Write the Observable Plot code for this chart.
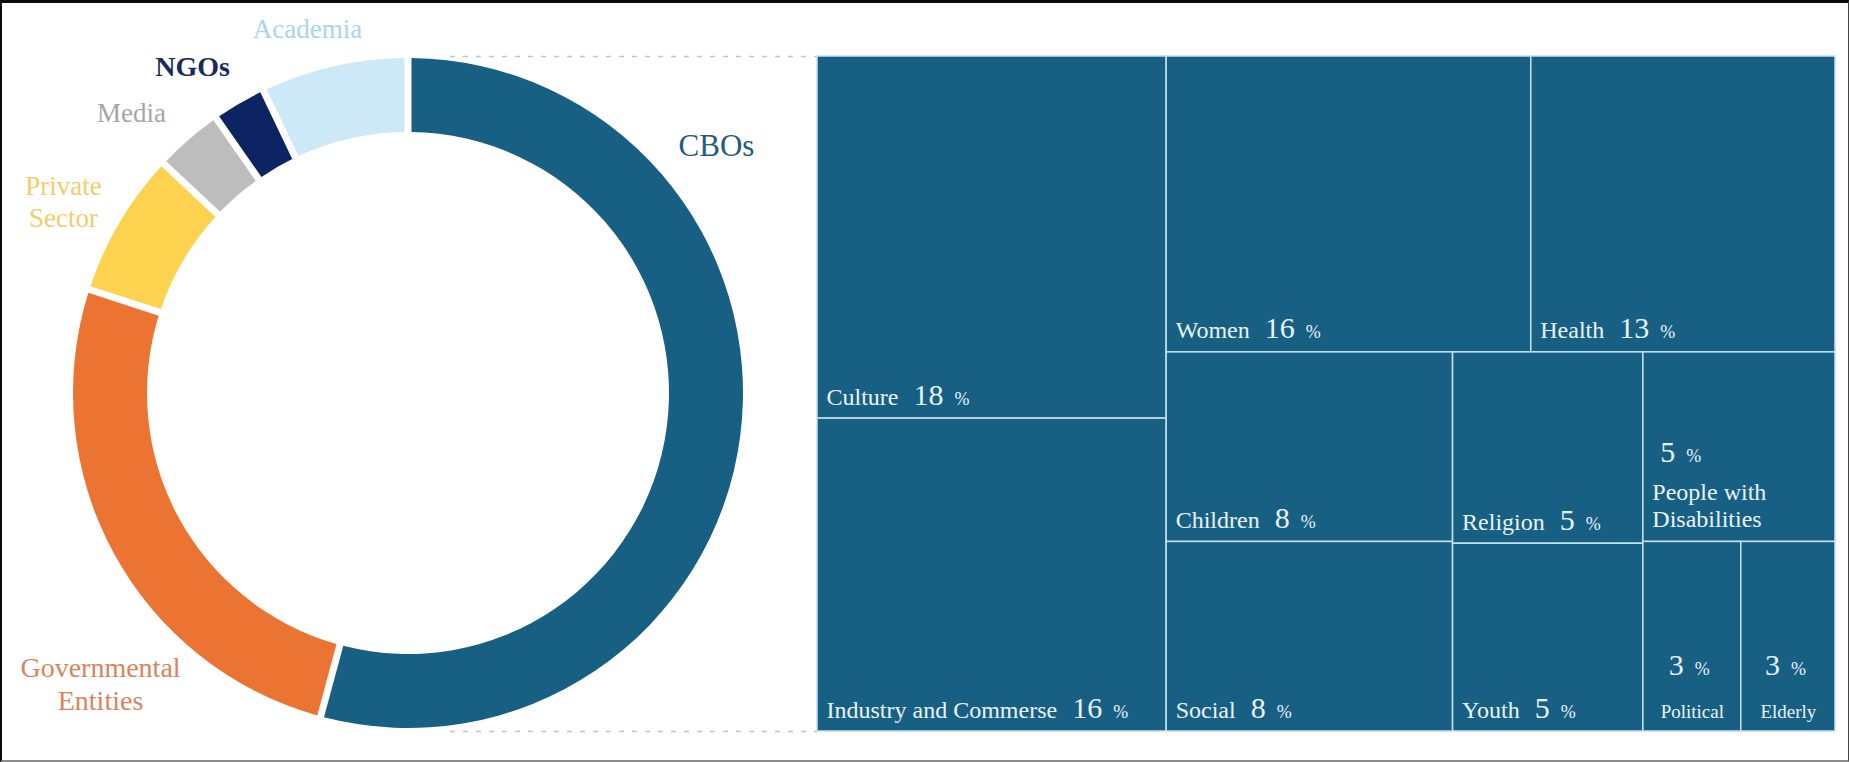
<!DOCTYPE html>
<html>
<head>
<meta charset="utf-8">
<script src="https://cdn.jsdelivr.net/npm/d3@7"></script>
<script src="https://cdn.jsdelivr.net/npm/@observablehq/plot@0.6"></script>
<style>
  html, body { margin: 0; padding: 0; background: #fff; }
  #wrap { position: relative; width: 1849px; height: 762px; overflow: hidden; background: #fff; }
  #wrap svg { position: absolute; left: 0; top: 0; }
  #border { position: absolute; left: 0; top: 0; width: 1849px; height: 762px; box-sizing: border-box;
    border-top: 3px solid #0a0a0a; border-left: 2px solid #0a0a0a; border-right: 1px solid #444;
    border-bottom: 2px solid #8c8c8c; pointer-events: none; z-index: 2; }
</style>
</head>
<body>
<div id="wrap"><div id="border"></div></div>
<script>
// ---------------- DATA ----------------
// Donut: type of organisation (share of total, %), read from the arc angles
const orgNames  = ["CBOs", "Governmental Entities", "Private Sector", "Media", "NGOs", "Academia"];
const orgShares = [54.2, 25.8, 7.0, 3.3, 2.6, 7.1];

// Treemap: CBO sectors (share, %); labels show rounded values
const sectorNames  = ["Culture", "Industry and Commerse", "Women", "Health", "Children", "Social",
                      "Religion", "Youth", "People with Disabilities", "Political", "Elderly"];
const sectorShares = [18.4, 15.9, 15.7, 13.1, 7.9, 7.9, 5.3, 5.2, 5.3, 2.7, 2.6];
// grouping of the treemap tiles (structure only)
const sectorGroups = ["left", "left", "right/top", "right/top", "right/bottom/a", "right/bottom/a",
                      "right/bottom/b", "right/bottom/b", "right/bottom/c", "right/bottom/c/pair", "right/bottom/c/pair"];

// ---------------- STYLE / LAYOUT ----------------
const FONT = '"Liberation Serif", "Times New Roman", serif';
const orgColors      = {"CBOs": "#185f84", "Governmental Entities": "#ec7433", "Private Sector": "#fdd24f",
                        "Media": "#bdbdbd", "NGOs": "#0c2461", "Academia": "#cde9f8"};
const orgLabelColors = {"CBOs": "#245b7e", "Governmental Entities": "#d9845b", "Private Sector": "#f2cd6b",
                        "Media": "#a6a6a6", "NGOs": "#1b2a5c", "Academia": "#a9d4ee"};
const orgLabelText   = {"Private Sector": "Private\nSector", "Governmental Entities": "Governmental\nEntities"};
// label anchor (last baseline) relative to donut centre, font size, weight
const orgLabelPlace  = {"CBOs": [308, -238, 31, "normal"], "Governmental Entities": [-308, 316, 28, "normal"],
                        "Private Sector": [-345, -167, 27, "normal"], "Media": [-277, -272, 27, "normal"],
                        "NGOs": [-216, -318, 28, "bold"], "Academia": [-101, -356, 27, "normal"]};
const CX = 408, CY = 393, RO = 335, RI = 261;
const TX = 817, TY = 56, TW = 1018, TH = 675;
const tileColor = "#185f84", tileLine = "#c6e1f0", tileText = "#e9f4fa";
const labelStyle = {"People with Disabilities": "stackLeft", "Political": "stackCenter", "Elderly": "stackCenter"};
const labelBreak = {"People with Disabilities": "People with\nDisabilities"};

// ---------------- TREEMAP LAYOUT ----------------
const rootObj = {name: "root", children: []};
sectorNames.forEach((name, i) => {
  let node = rootObj;
  for (const key of sectorGroups[i].split("/")) {
    let child = node.children.find(c => c.name === key && c.children);
    if (!child) { child = {name: key, children: []}; node.children.push(child); }
    node = child;
  }
  node.children.push({name, share: sectorShares[i]});
});
const root = d3.hierarchy(rootObj).sum(d => d.share || 0);
d3.treemap().tile(d3.treemapSliceDice).size([TW, TH])(root);
const cells = root.leaves().map(l => ({
  name: l.data.name, share: l.data.share,
  x0: TX + l.x0, x1: TX + l.x1, y0: TY + l.y0, y1: TY + l.y1
}));

// text measuring for composite labels
const ctx = document.createElement("canvas").getContext("2d");
const tw = (t, s) => { ctx.font = `${s}px "Liberation Serif"`; return ctx.measureText(t).width; };
const NAME = 24, NUM = 30, PCT = 18, SMALL = 19;
const nameStart = [], nameMid = [], nums = [], pcts = [];
for (const c of cells) {
  const pct = String(Math.round(c.share));
  const style = labelStyle[c.name] || "inline";
  const label = labelBreak[c.name] || c.name;
  if (style === "inline") {
    const x = c.x0 + 9, y = c.y1 - 14;
    nameStart.push({x, y, text: label});
    const nx = x + tw(label, NAME) + 15;
    nums.push({x: nx, y, text: pct});
    pcts.push({x: nx + tw(pct, NUM) + 11, y, text: "%"});
  } else if (style === "stackLeft") {
    nameStart.push({x: c.x0 + 9, y: c.y1 - 15, text: label});
    const nx = c.x0 + 17, y = c.y1 - 80;
    nums.push({x: nx, y, text: pct});
    pcts.push({x: nx + tw(pct, NUM) + 11, y, text: "%"});
  } else {
    const mid = (c.x0 + c.x1) / 2;
    nameMid.push({x: mid, y: c.y1 - 14, text: label});
    const total = tw(pct, NUM) + 11 + tw("%", PCT);
    const nx = mid - total / 2 - 3, y = c.y1 - 57;
    nums.push({x: nx, y, text: pct});
    pcts.push({x: nx + tw(pct, NUM) + 11, y, text: "%"});
  }
}

// ---------------- DONUT (pie layout) ----------------
const orgData = orgNames.map((name, i) => ({name, share: orgShares[i]}));
const donut = () => {
  const g = d3.create("svg:g").attr("transform", `translate(${CX},${CY})`);
  const arcs = d3.pie().sort(null).value(d => d.share)(orgData);
  const arc = d3.arc().innerRadius(RI).outerRadius(RO)
    .padAngle(7 / Math.hypot(RI, RO));
  g.selectAll("path").data(arcs).join("path")
    .attr("d", arc)
    .attr("fill", d => orgColors[d.data.name]);
  return g.node();
};

const orgLabelMarks = orgNames.map(name => {
  const [dx, dy, size, weight] = orgLabelPlace[name];
  return Plot.text([{x: CX + dx, y: CY + dy, text: orgLabelText[name] || name}], {
    x: "x", y: "y", text: "text", fill: orgLabelColors[name], fontSize: size, fontWeight: weight,
    fontFamily: FONT, textAnchor: "middle", lineAnchor: "bottom", lineHeight: 1.15
  });
});

const txt = {fontFamily: FONT, fill: tileText, lineAnchor: "bottom", x: "x", y: "y", text: "text"};

const plot = Plot.plot({
  width: 1849, height: 762, margin: 0,
  x: {type: "identity", axis: null},
  y: {type: "identity", axis: null},
  style: {background: "transparent", overflow: "visible"},
  marks: [
    Plot.ruleY([TY, TY + TH], {x1: CX + 42, x2: TX, stroke: "#c4c4c4", strokeWidth: 1.5, strokeDasharray: "5,8"}),
    donut,
    Plot.rect(cells, {x1: "x0", x2: "x1", y1: "y0", y2: "y1", fill: tileColor, stroke: tileLine, strokeWidth: 1.5}),
    Plot.text(nameStart, {...txt, fontSize: NAME, textAnchor: "start", lineHeight: 1.125}),
    Plot.text(nameMid, {...txt, fontSize: SMALL, textAnchor: "middle"}),
    Plot.text(nums, {...txt, fontSize: NUM, textAnchor: "start"}),
    Plot.text(pcts, {...txt, fontSize: PCT, textAnchor: "start"}),
    ...orgLabelMarks
  ]
});
document.getElementById("wrap").appendChild(plot);
</script>
</body>
</html>
